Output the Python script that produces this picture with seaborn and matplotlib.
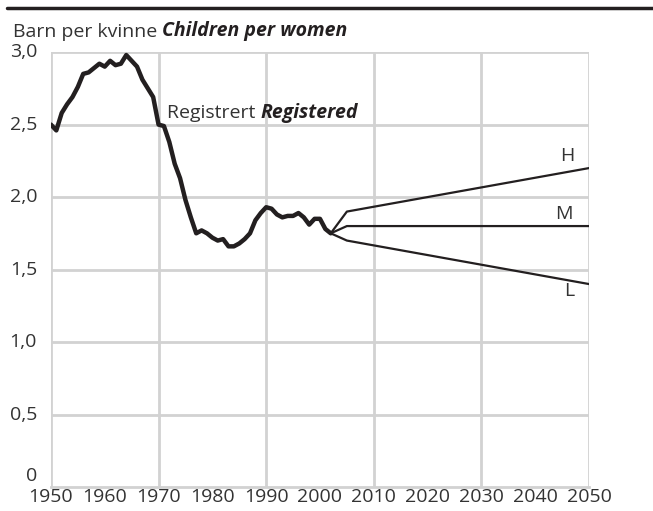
import pandas as pd
import matplotlib
matplotlib.use("Agg")
import matplotlib.pyplot as plt
import matplotlib.transforms as mtrans
import seaborn as sns
from matplotlib.lines import Line2D

# registered total fertility rate
years = list(range(1950, 2003))
tfr = [2.50, 2.46, 2.58, 2.64, 2.69, 2.76, 2.85, 2.86, 2.89, 2.92, 2.90,
       2.94, 2.91, 2.92, 2.98, 2.94, 2.90, 2.81, 2.75, 2.69, 2.50,
       2.49, 2.38, 2.23, 2.13, 1.98, 1.86, 1.75, 1.77, 1.75, 1.72,
       1.70, 1.71, 1.66, 1.66, 1.68, 1.71, 1.75, 1.84, 1.89, 1.93,
       1.92, 1.88, 1.86, 1.87, 1.87, 1.89, 1.86, 1.81, 1.85, 1.85,
       1.78, 1.75]

# projection alternatives
proj_years = [2002, 2005, 2050]
proj_h = [1.75, 1.90, 2.20]
proj_m = [1.75, 1.80, 1.80]
proj_l = [1.75, 1.70, 1.40]

yticks = [0, 0.5, 1.0, 1.5, 2.0, 2.5, 3.0]
ytick_labels = ["0", "0,5", "1,0", "1,5", "2,0", "2,5", "3,0"]

sns.set_style("white")
plt.rcParams["font.family"] = ["Open Sans", "DejaVu Sans"]

ink = "#231f20"
txt = "#333333"
grid = "#d2d2d2"
fs = 14

df = pd.DataFrame({"year": years, "tfr": tfr})
proj = pd.DataFrame({
    "year": proj_years * 3,
    "tfr": proj_h + proj_m + proj_l,
    "alt": ["H"] * 3 + ["M"] * 3 + ["L"] * 3,
})

fig = plt.figure(figsize=(6.53, 5.11), dpi=100)
ax = fig.add_axes([0.078, 0.047, 0.824, 0.851])

for x in range(1950, 2051, 20):
    ax.axvline(x, color=grid, lw=2, zorder=0)
for y in yticks[1:]:
    ax.axhline(y, color=grid, lw=2, zorder=0)

sns.lineplot(data=proj, x="year", y="tfr", units="alt", estimator=None,
             color=ink, lw=1.6, ax=ax, zorder=2)
sns.lineplot(data=df, x="year", y="tfr", color=ink, lw=3.2, ax=ax, zorder=3)

ax.set_xlim(1950, 2050)
ax.set_ylim(0, 3.0)
ax.set_xticks(range(1950, 2051, 10))
ax.set_xticks(range(1950, 2051, 5), minor=True)
ax.set_yticks(yticks)
ax.set_yticklabels(ytick_labels)
ax.tick_params(axis="x", which="both", direction="in", length=6, width=1.5,
               color=grid, labelsize=fs, labelcolor=txt, pad=1)
ax.tick_params(axis="y", length=0, labelsize=fs, labelcolor=txt, pad=10)
for lab in ax.get_yticklabels():
    lab.set_verticalalignment("center")
# lift the "0" label so it sits just above the year labels
zero = ax.get_yticklabels()[0]
zero.set_verticalalignment("baseline")
zero.set_transform(zero.get_transform() +
                   mtrans.ScaledTranslation(0, 4 / 72, fig.dpi_scale_trans))
ax.set_xlabel("")
ax.set_ylabel("")
for s in ["top", "right", "left"]:
    ax.spines[s].set_visible(False)
ax.spines["bottom"].set_color(grid)
ax.spines["bottom"].set_linewidth(2)

t1 = ax.text(1971.5, 2.58, "Registrert ", fontsize=fs, color=txt, va="center")
ax.annotate("Registered", xy=(1, 0.5), xycoords=t1, va="center",
            fontsize=fs, color=ink, style="italic", weight="bold")
ax.text(2045.9, 2.28, "H", fontsize=fs, color=txt, ha="center", va="center")
ax.text(2045.4, 1.88, "M", fontsize=fs, color=txt, ha="center", va="center")
ax.text(2046.3, 1.35, "L", fontsize=fs, color=txt, ha="center", va="center")

t2 = fig.text(0.02, 0.928, "Barn per kvinne ", fontsize=fs, color=txt)
ax.annotate("Children per women", xy=(1, 0), xycoords=t2, va="bottom",
            fontsize=fs, color=ink, style="italic", weight="bold",
            annotation_clip=False)
fig.add_artist(Line2D([0.011, 1.0], [0.984, 0.984], color=ink, lw=2.5,
                      transform=fig.transFigure))

fig.savefig("out.png", dpi=100)
